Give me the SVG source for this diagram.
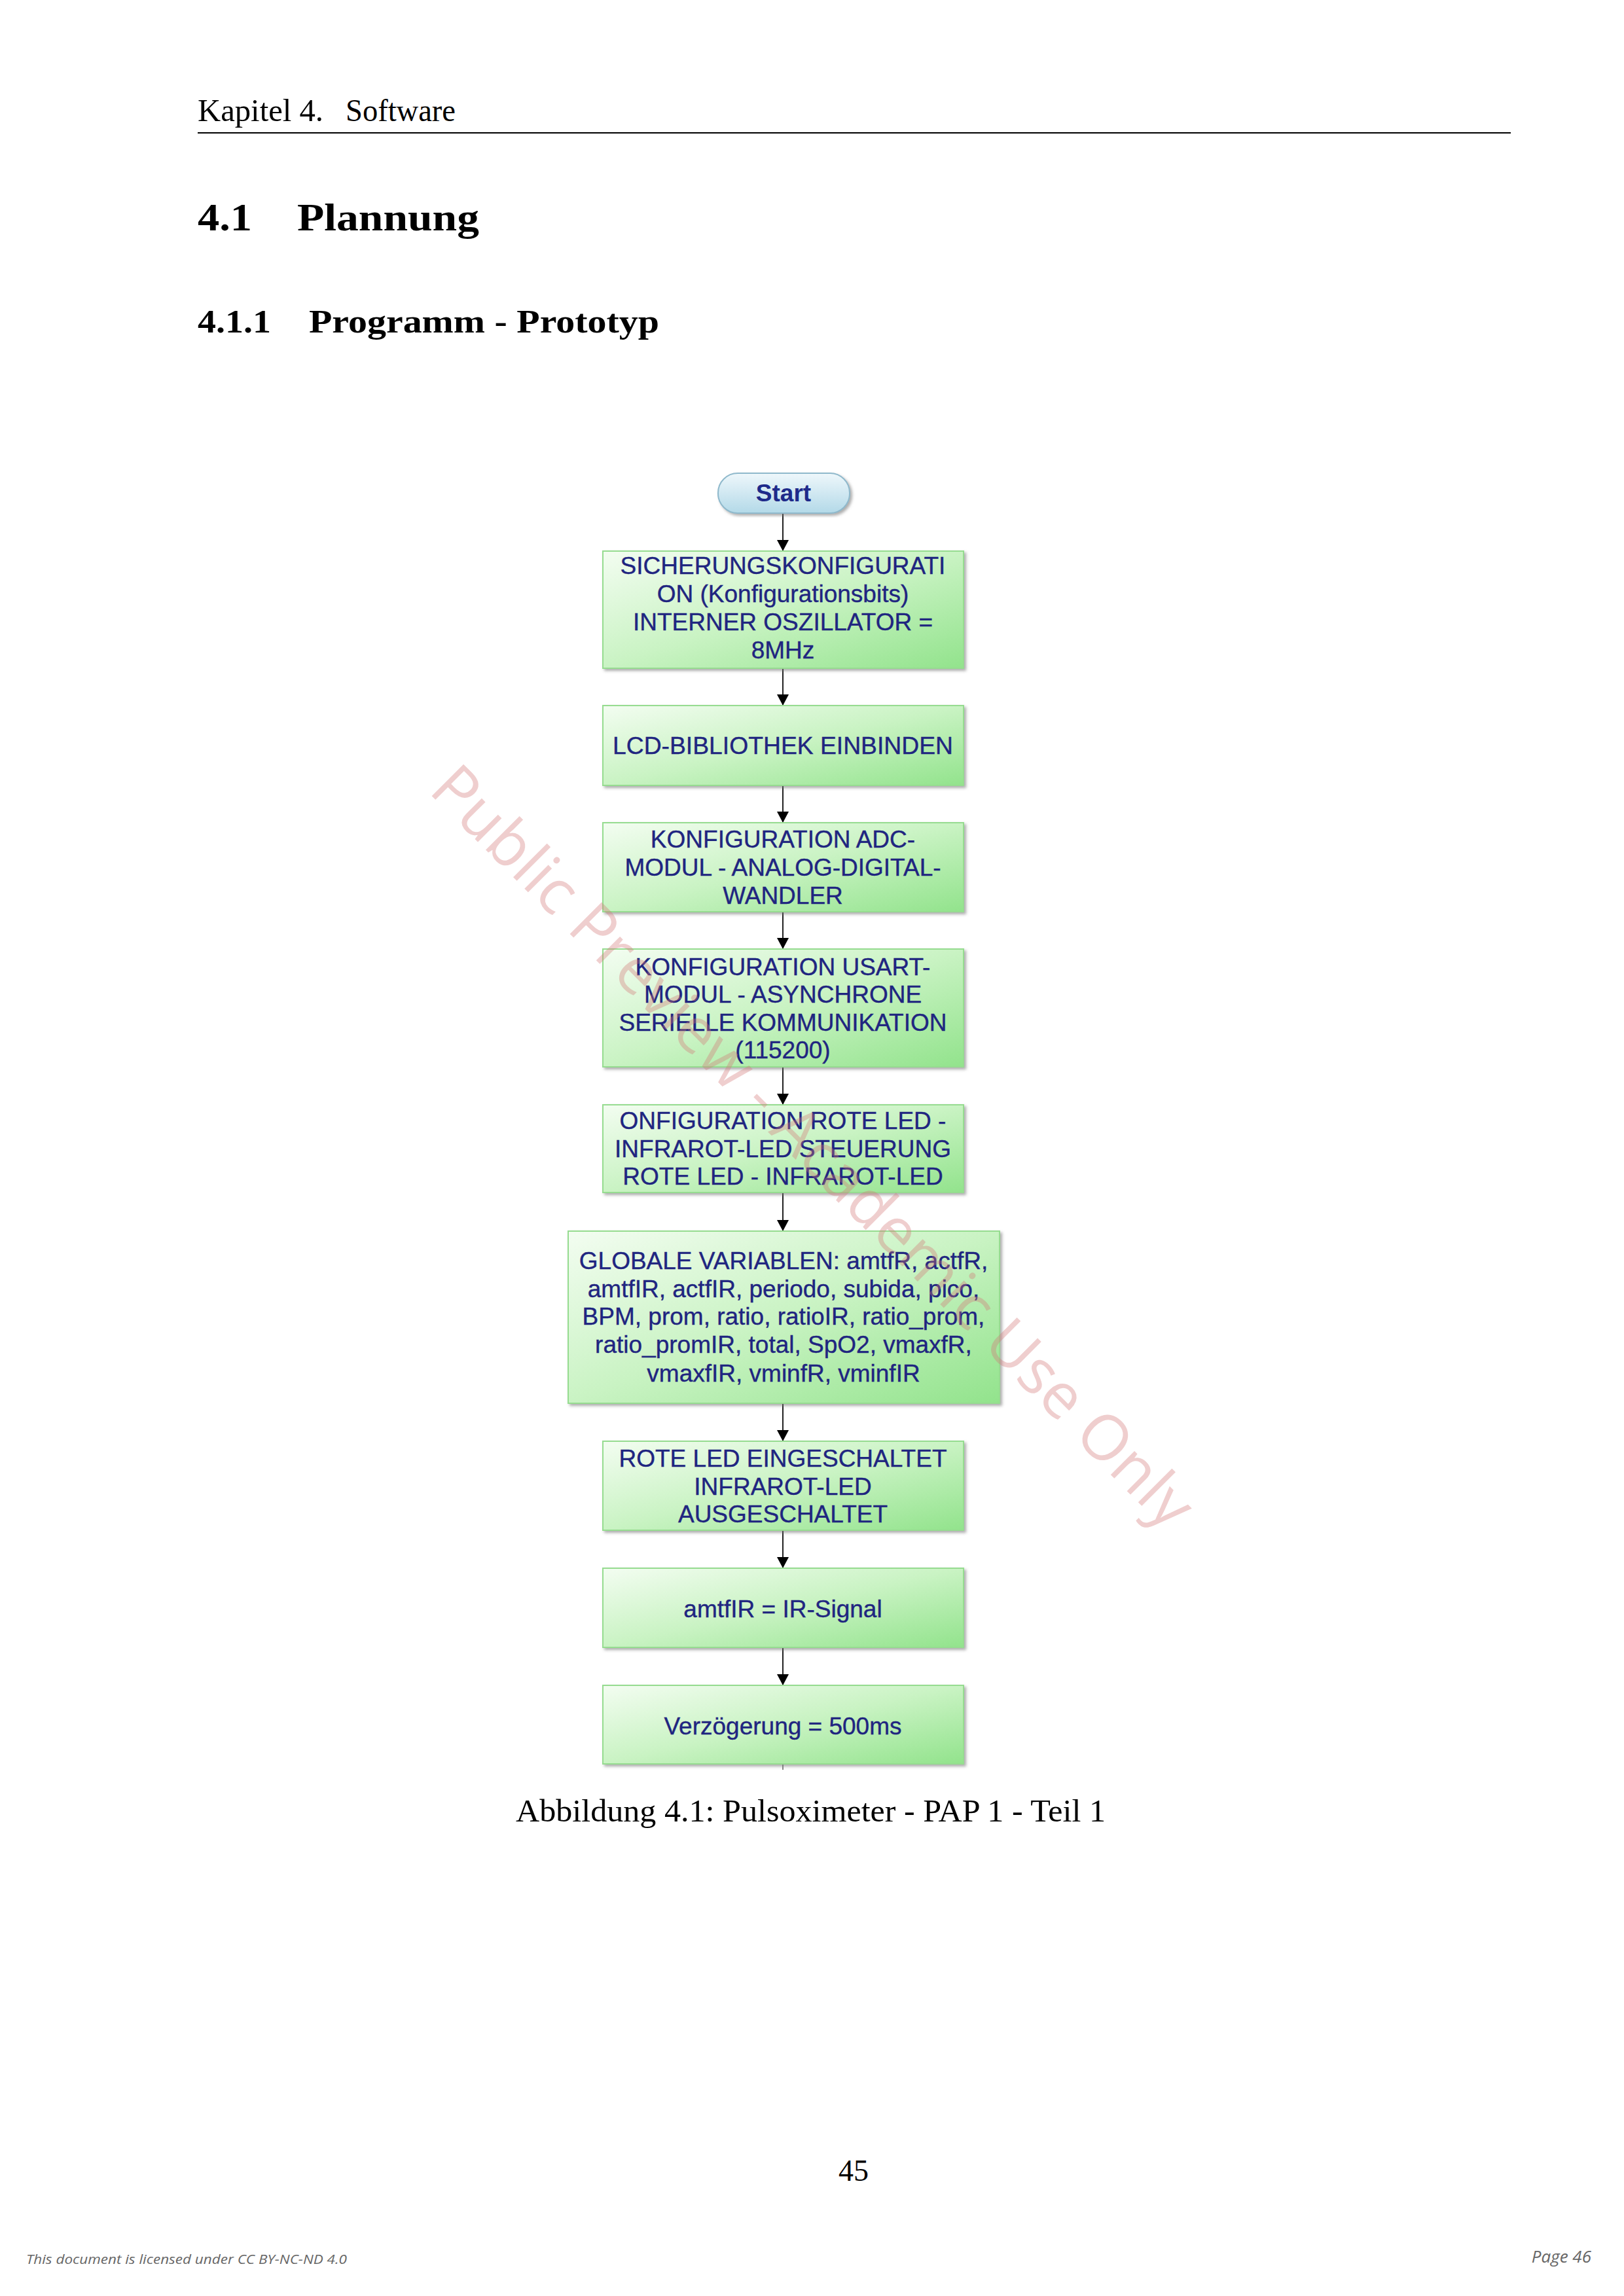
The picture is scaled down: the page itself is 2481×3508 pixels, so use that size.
<svg xmlns="http://www.w3.org/2000/svg" width="2481" height="3508" viewBox="0 0 2481 3508">
<style>
.page{font-family:"Liberation Serif","Times New Roman",serif;fill:#000}
.box{fill:url(#gBox);stroke:#96dc90;stroke-width:2;filter:url(#shadow)}
.start{fill:url(#gStart);stroke:#8fb9cc;stroke-width:2;filter:url(#shadow)}
.t{font-family:"Liberation Sans",Arial,sans-serif;font-size:37px;fill:#1f2580;stroke:#1f2580;stroke-width:0.4;text-anchor:middle}
.conn{stroke:#222;stroke-width:2;fill:none}
.foot{font-family:"Open Sans","Noto Sans",sans-serif;font-style:italic;fill:#666}
</style>
<defs>
<linearGradient id="gBox" x1="0" y1="0" x2="1" y2="1">
<stop offset="0" stop-color="#f3fdf1"/>
<stop offset="0.5" stop-color="#c9f3c3"/>
<stop offset="1" stop-color="#92e38c"/>
</linearGradient>
<linearGradient id="gStart" x1="0" y1="0" x2="0" y2="1">
<stop offset="0" stop-color="#eef7fb"/>
<stop offset="1" stop-color="#b3d9e8"/>
</linearGradient>
<filter id="shadow" x="-5%" y="-5%" width="112%" height="115%">
<feDropShadow dx="3" dy="3" stdDeviation="2" flood-color="#777" flood-opacity="0.6"/>
</filter>
<marker id="arr" markerWidth="17" markerHeight="18" refX="17" refY="9" orient="auto" markerUnits="userSpaceOnUse" viewBox="0 0 17 18">
<path d="M0,0 L17,9 L0,18 Z" fill="#000"/>
</marker>
</defs>
<rect width="2481" height="3508" fill="#fff"/>

<g id="header">
<text class="page" x="302" y="185" font-size="48" textLength="192" lengthAdjust="spacingAndGlyphs">Kapitel 4.</text>
<text class="page" x="528" y="185" font-size="48" textLength="168" lengthAdjust="spacingAndGlyphs">Software</text>
<line x1="302" y1="203" x2="2308" y2="203" stroke="#000" stroke-width="2"/>
<text class="page" x="302" y="352" font-size="60" font-weight="bold" textLength="83" lengthAdjust="spacingAndGlyphs">4.1</text>
<text class="page" x="454" y="352" font-size="60" font-weight="bold" textLength="278" lengthAdjust="spacingAndGlyphs">Plannung</text>
<text class="page" x="302" y="508" font-size="50" font-weight="bold" textLength="112" lengthAdjust="spacingAndGlyphs">4.1.1</text>
<text class="page" x="472" y="508" font-size="50" font-weight="bold" textLength="535" lengthAdjust="spacingAndGlyphs">Programm - Prototyp</text>
</g>

<g id="connectors">
<line class="conn" x1="1196" y1="785" x2="1196" y2="842" marker-end="url(#arr)"/>
<line class="conn" x1="1196" y1="1022" x2="1196" y2="1078" marker-end="url(#arr)"/>
<line class="conn" x1="1196" y1="1201" x2="1196" y2="1257" marker-end="url(#arr)"/>
<line class="conn" x1="1196" y1="1394" x2="1196" y2="1450" marker-end="url(#arr)"/>
<line class="conn" x1="1196" y1="1631" x2="1196" y2="1688" marker-end="url(#arr)"/>
<line class="conn" x1="1196" y1="1823" x2="1196" y2="1881" marker-end="url(#arr)"/>
<line class="conn" x1="1196" y1="2145" x2="1196" y2="2202" marker-end="url(#arr)"/>
<line class="conn" x1="1196" y1="2339" x2="1196" y2="2396" marker-end="url(#arr)"/>
<line class="conn" x1="1196" y1="2518" x2="1196" y2="2575" marker-end="url(#arr)"/>
<line x1="1196" y1="2696" x2="1196" y2="2704" stroke="#888" stroke-width="2"/>
</g>

<g id="start">
<rect class="start" x="1097" y="723" width="201" height="61" rx="30" ry="30"/>
<text x="1197" y="766" font-family="'Liberation Sans',Arial,sans-serif" font-size="37" font-weight="bold" fill="#1e2a8a" text-anchor="middle">Start</text>
</g>

<g id="n1">
<rect class="box" x="921" y="842" width="551" height="179"/>
<text class="t" x="1196" y="877">SICHERUNGSKONFIGURATI</text>
<text class="t" x="1196" y="920">ON (Konfigurationsbits)</text>
<text class="t" x="1196" y="963">INTERNER OSZILLATOR =</text>
<text class="t" x="1196" y="1006">8MHz</text>
</g>

<g id="n2">
<rect class="box" x="921" y="1078" width="551" height="122"/>
<text class="t" x="1196" y="1152" textLength="520" lengthAdjust="spacingAndGlyphs">LCD-BIBLIOTHEK EINBINDEN</text>
</g>

<g id="n3">
<rect class="box" x="921" y="1257" width="551" height="136"/>
<text class="t" x="1196" y="1295">KONFIGURATION ADC-</text>
<text class="t" x="1196" y="1338">MODUL - ANALOG-DIGITAL-</text>
<text class="t" x="1196" y="1381">WANDLER</text>
</g>

<g id="n4">
<rect class="box" x="921" y="1450" width="551" height="180"/>
<text class="t" x="1196" y="1490">KONFIGURATION USART-</text>
<text class="t" x="1196" y="1532">MODUL - ASYNCHRONE</text>
<text class="t" x="1196" y="1575">SERIELLE KOMMUNIKATION</text>
<text class="t" x="1196" y="1617">(115200)</text>
</g>

<g id="n5">
<rect class="box" x="921" y="1688" width="551" height="134"/>
<text class="t" x="1196" y="1725">ONFIGURATION ROTE LED -</text>
<text class="t" x="1196" y="1768">INFRAROT-LED STEUERUNG</text>
<text class="t" x="1196" y="1810">ROTE LED - INFRAROT-LED</text>
</g>

<g id="n6">
<rect class="box" x="868" y="1881" width="659" height="263"/>
<text class="t" x="1197" y="1939">GLOBALE VARIABLEN: amtfR, actfR,</text>
<text class="t" x="1197" y="1982">amtfIR, actfIR, periodo, subida, pico,</text>
<text class="t" x="1197" y="2024">BPM, prom, ratio, ratioIR, ratio_prom,</text>
<text class="t" x="1197" y="2067">ratio_promIR, total, SpO2, vmaxfR,</text>
<text class="t" x="1197" y="2111">vmaxfIR, vminfR, vminfIR</text>
</g>

<g id="n7">
<rect class="box" x="921" y="2202" width="551" height="136"/>
<text class="t" x="1196" y="2241">ROTE LED EINGESCHALTET</text>
<text class="t" x="1196" y="2284">INFRAROT-LED</text>
<text class="t" x="1196" y="2326">AUSGESCHALTET</text>
</g>

<g id="n8">
<rect class="box" x="921" y="2396" width="551" height="121"/>
<text class="t" x="1196" y="2471">amtfIR = IR-Signal</text>
</g>

<g id="n9">
<rect class="box" x="921" y="2575" width="551" height="120"/>
<text class="t" x="1196" y="2650">Verzögerung = 500ms</text>
</g>

<g id="caption">
<text class="page" x="788" y="2783" font-size="48" textLength="901" lengthAdjust="spacingAndGlyphs">Abbildung 4.1: Pulsoximeter - PAP 1 - Teil 1</text>
<text class="page" x="1304" y="3332" font-size="46" text-anchor="middle">45</text>
</g>

<g id="footer">
<text class="foot" x="40" y="3459" font-size="20" textLength="490" lengthAdjust="spacingAndGlyphs">This document is licensed under CC BY-NC-ND 4.0</text>
<text class="foot" x="2431" y="3457" font-size="26" text-anchor="end">Page 46</text>
</g>

<g id="watermark">
<text transform="translate(1240,1754) rotate(45)" x="0" y="30" font-family="'Open Sans','Noto Sans',sans-serif" font-size="96" fill="#d27878" fill-opacity="0.36" text-anchor="middle" textLength="1600">Public Preview - Academic Use Only</text>
</g>
</svg>
